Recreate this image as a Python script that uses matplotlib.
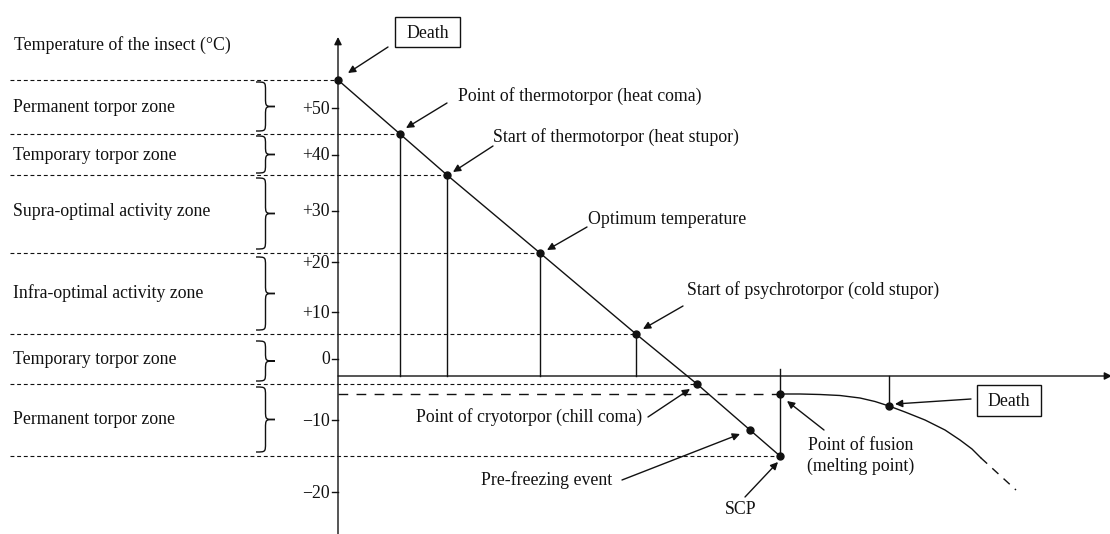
import matplotlib.pyplot as plt
from matplotlib.path import Path
from matplotlib.patches import PathPatch, Rectangle

# drawing units: x grows to the right, y grows downwards
axis_x = 338
axis_y = 376

tick_labels = ["+50", "+40", "+30", "+20", "+10", "0", "\u221210", "\u221220"]
tick_y = [108, 155, 211, 262, 312, 359, 420, 492]

zone_names = ["Permanent torpor zone", "Temporary torpor zone", "Supra-optimal activity zone",
              "Infra-optimal activity zone", "Temporary torpor zone", "Permanent torpor zone"]
zone_top = [82, 136, 178, 257, 341, 387]
zone_bottom = [131, 173, 249, 330, 381, 452]
zone_label_y = [106, 155, 211, 292, 358, 419]

# points on the cooling line
line_x = [338, 400, 447, 540, 636, 697, 750, 780]
line_y = [80, 134, 175, 253, 334, 384, 430, 456]
has_level = [True, True, True, True, True, True, False, True]
has_drop = [False, True, True, True, True, False, False, False]

# after freezing
fusion_x, fusion_y = 780, 394
curve_x = [780, 800, 820, 840, 860, 875, 889, 905, 925, 945, 960, 972, 981]
curve_y = [394, 394, 394.5, 395.5, 398, 401.5, 406, 412, 420, 430, 440, 449, 458]
tail_x = [981, 1016]
tail_y = [458, 490]
death2_x, death2_y = 889, 406

# (text, text x, text y, ha, arrow start, arrow tip)
notes = [
    ("Point of thermotorpor (heat coma)", 458, 95, "left", (447, 103), (406, 128)),
    ("Start of thermotorpor (heat stupor)", 493, 136, "left", (493, 146), (453, 172)),
    ("Optimum temperature", 588, 219, "left", (587, 227), (547, 250)),
    ("Start of psychrotorpor (cold stupor)", 687, 289, "left", (683, 306), (643, 329)),
    ("Point of cryotorpor (chill coma)", 642, 416, "right", (648, 417), (690, 389)),
    ("Pre-freezing event", 612, 479, "right", (622, 480), (740, 434)),
    ("SCP", 741, 509, "center", (745, 497), (778, 462)),
    ("Point of fusion\n(melting point)", 861, 455, "center", (824, 430), (787, 401)),
]

# boxed "Death" labels: (left, top, right, bottom), arrow start, arrow tip
death_boxes = [((395, 17, 460, 47), (388, 47), (348, 73)),
               ((977, 385, 1041, 416), (971, 399), (895, 404))]

plt.rcParams["font.family"] = ["Liberation Serif", "DejaVu Serif"]
fs = 12.75

fig = plt.figure(figsize=(11.1, 5.34), dpi=100)
ax = fig.add_axes([0, 0, 1, 1])
ax.set_xlim(0, 1110)
ax.set_ylim(534, 0)
ax.axis("off")

lw = 1.0
k = "#111111"

# axes with arrows
axis_arrow = dict(arrowstyle="-|>", color=k, lw=lw, mutation_scale=11, shrinkA=0, shrinkB=0)
ax.annotate("", xy=(axis_x, 37), xytext=(axis_x, 534), arrowprops=axis_arrow, annotation_clip=False)
ax.annotate("", xy=(1112, axis_y), xytext=(axis_x, axis_y), arrowprops=axis_arrow, annotation_clip=False)

for t, y in zip(tick_labels, tick_y):
    ax.plot([axis_x - 6, axis_x], [y, y], color=k, lw=lw)
    ax.text(axis_x - 8, y + 1, t, ha="right", va="center", fontsize=fs, color=k)

ax.text(14, 45, "Temperature of the insect (\u00b0C)", ha="left", va="center", fontsize=fs, color=k)


def brace(x0, yt, yb, w=19, r=9):
    xm = x0 + w / 2
    ym = (yt + yb) / 2
    verts = [(x0, yt), (xm, yt), (xm, yt), (xm, yt + r),
             (xm, ym - r),
             (xm, ym), (xm, ym), (x0 + w, ym),
             (xm, ym), (xm, ym), (xm, ym + r),
             (xm, yb - r),
             (xm, yb), (xm, yb), (x0, yb)]
    codes = [Path.MOVETO, Path.CURVE4, Path.CURVE4, Path.CURVE4,
             Path.LINETO,
             Path.CURVE4, Path.CURVE4, Path.CURVE4,
             Path.CURVE4, Path.CURVE4, Path.CURVE4,
             Path.LINETO,
             Path.CURVE4, Path.CURVE4, Path.CURVE4]
    ax.add_patch(PathPatch(Path(verts, codes), fill=False, color=k, lw=lw))


for name, yt, yb, yl in zip(zone_names, zone_top, zone_bottom, zone_label_y):
    ax.text(13, yl + 1, name, ha="left", va="center", fontsize=fs, color=k)
    brace(256, yt, yb)

# level lines and drops
for x, y, lev, drop in zip(line_x, line_y, has_level, has_drop):
    if lev:
        ax.plot([10, x], [y, y], color=k, lw=0.8, dashes=(3.5, 2.5))
    if drop:
        ax.plot([x, x], [y, axis_y], color=k, lw=lw)

ax.plot(line_x, line_y, color=k, lw=lw)
ax.plot(line_x, line_y, "o", color=k, ms=5)

# fusion
ax.plot([axis_x, fusion_x], [fusion_y, fusion_y], color=k, lw=lw, dashes=(7, 6))
ax.plot([fusion_x, fusion_x], [369, line_y[-1]], color=k, lw=lw)
ax.plot(curve_x, curve_y, color=k, lw=lw)
ax.plot(tail_x, tail_y, color=k, lw=lw, dashes=(6, 5))
ax.plot([death2_x, death2_x], [axis_y, death2_y], color=k, lw=lw)
ax.plot([fusion_x, death2_x], [fusion_y, death2_y], "o", color=k, ms=5)

arrow = dict(arrowstyle="-|>", color=k, lw=lw, mutation_scale=11, shrinkA=0, shrinkB=0)
for text, tx, ty, ha, start, tip in notes:
    ax.text(tx, ty + 1, text, ha=ha, va="center", fontsize=fs, color=k, linespacing=1.3)
    ax.annotate("", xy=tip, xytext=start, arrowprops=arrow)

for (x0, y0, x1, y1), start, tip in death_boxes:
    ax.add_patch(Rectangle((x0, y0), x1 - x0, y1 - y0, fc="white", ec=k, lw=lw))
    ax.text((x0 + x1) / 2, (y0 + y1) / 2 + 1, "Death", ha="center", va="center", fontsize=fs, color=k)
    ax.annotate("", xy=tip, xytext=start, arrowprops=arrow)

fig.savefig("out.png", dpi=100)
